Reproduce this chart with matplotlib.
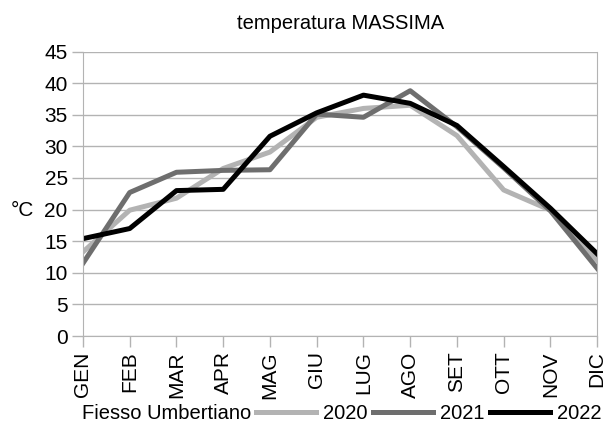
import matplotlib.pyplot as plt

mesi = ["GEN", "FEB", "MAR", "APR", "MAG", "GIU", "LUG", "AGO", "SET", "OTT", "NOV", "DIC"]
t2020 = [13.3, 19.9, 21.8, 26.5, 29.1, 34.6, 36.0, 36.5, 31.7, 23.1, 19.9, 12.0]
t2021 = [11.5, 22.7, 25.9, 26.2, 26.3, 35.1, 34.6, 38.8, 33.1, 26.6, 19.8, 10.7]
t2022 = [15.4, 17.0, 23.0, 23.2, 31.6, 35.3, 38.1, 36.8, 33.3, 26.8, 20.2, 13.0]

plt.rcParams["font.family"] = ["Liberation Sans", "DejaVu Sans"]

fig = plt.figure(figsize=(6.1, 4.33), dpi=100)
ax = fig.add_axes([0.136, 0.224, 0.843, 0.657])

x = range(len(mesi))
ax.plot(x, t2020, color="#b3b3b3", lw=3.6, label="2020")
ax.plot(x, t2021, color="#6e6e6e", lw=3.6, label="2021")
ax.plot(x, t2022, color="#000000", lw=3.6, label="2022")

ax.set_xlim(0, 11)
ax.set_ylim(0, 45)
ax.set_yticks(range(0, 46, 5))
ax.set_xticks(list(x))
ax.set_xticklabels(mesi, rotation=90, fontsize=15)
ax.tick_params(axis="y", labelsize=15, length=8, color="#b3b3b3", width=1, pad=3)
ax.tick_params(axis="x", length=8, color="#b3b3b3", width=1, pad=3)
ax.grid(axis="y", color="#b3b3b3", lw=1)
ax.set_axisbelow(True)
for s in ["left", "right", "bottom"]:
    ax.spines[s].set_color("#b3b3b3")
ax.spines["top"].set_visible(False)

fig.text(0.018, 0.515, "°C", fontsize=15, va="center", ha="left")
ax.set_title("temperatura MASSIMA", fontsize=14.5, pad=16)

fig.text(0.134, 0.046, "Fiesso Umbertiano", fontsize=14.5, va="center")
fig.legend(loc="center right", bbox_to_anchor=(0.99, 0.046), ncol=3, frameon=False,
           fontsize=14.5, handlelength=3.0, handletextpad=0.35, columnspacing=0.25,
           borderaxespad=0, borderpad=0.1)

fig.savefig("out.png", dpi=100)
